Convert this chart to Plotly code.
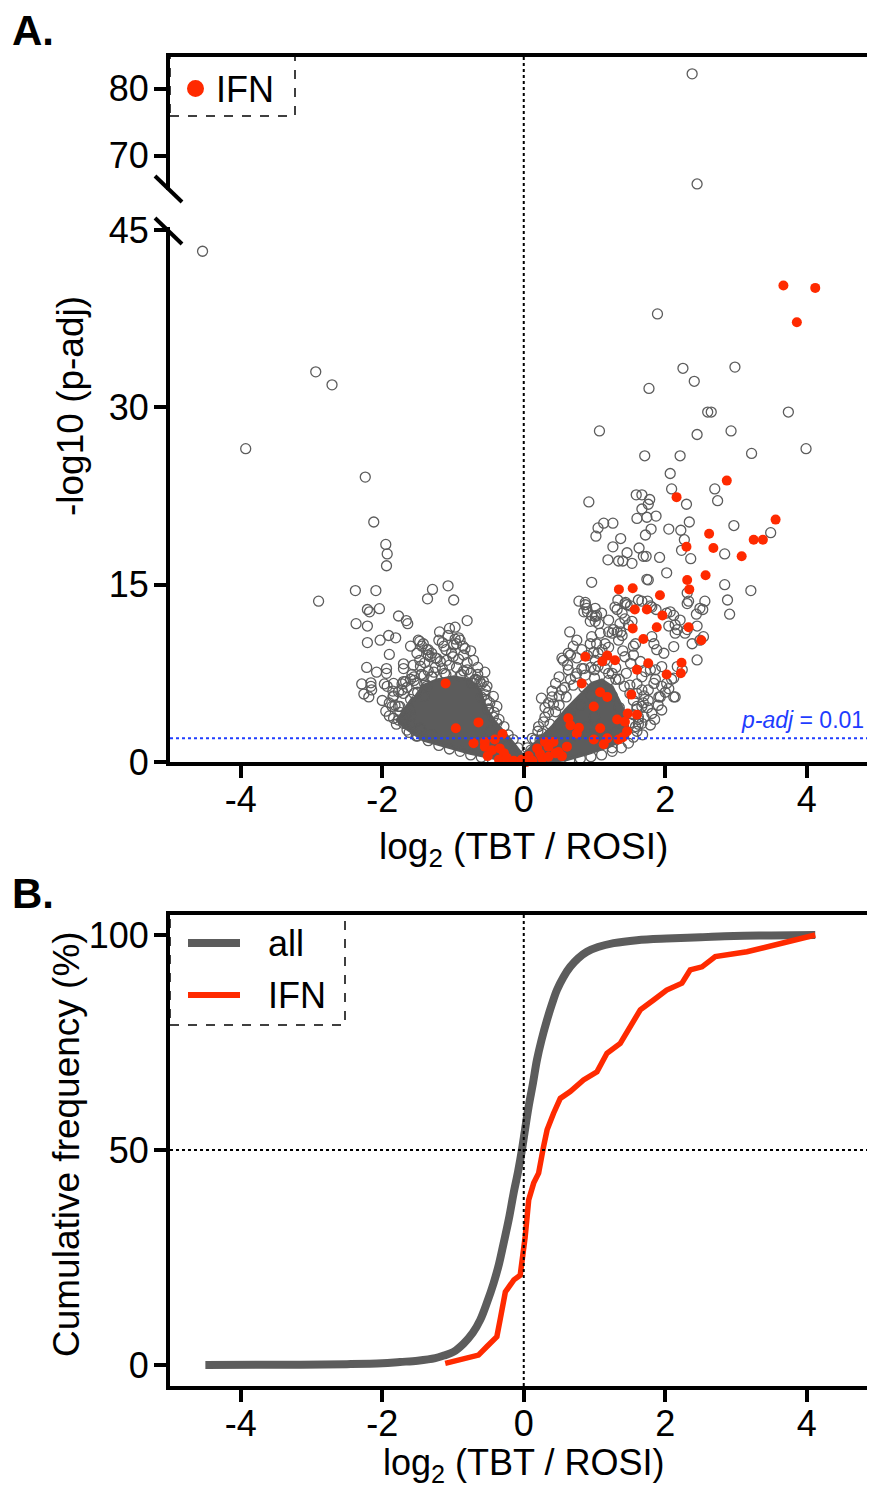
import plotly.graph_objects as go

# the page body has an 8px margin, so the figure is drawn 8px in and kept small enough not to scroll
OFF = 8
W, H = 875 - 2 * OFF, 1497 - 2 * OFF
GRAY = '#5c5c5c'
RED = '#ff2a00'
BLUE = '#1f3dff'
FONT = 'Liberation Sans, Arial, sans-serif'

# ---- panel A: volcano, all genes (open grey circles)
gray_x = [-4.54, -2.94, -2.71, -3.93, -2.24, -2.12, -1.95, -1.93, -1.94,
          -2.90, -2.38, -2.09, -2.21, -2.18, -2.04, -2.37, -2.21, -2.21,
          -1.29, -1.36, -1.07, -0.99, -1.77, -1.66, -1.64, -0.80, -1.91, -2.03,
          -1.81, -1.90, -2.22, -2.08, -1.94, -1.94, -2.29, -2.16, -2.26, -2.19,
          -2.16, -1.97, -1.93, -1.84, -1.72, -1.72, -1.70, -1.56, -1.47,
          -1.19, -1.05, -0.97, -1.20, -1.07, -0.92, -0.90, -1.47, -1.44, -1.35,
          -1.51, -1.35, -1.13, -0.99, -0.86, -1.02, -0.85, -1.09, -0.92, -1.18,
          -0.71, -0.80, -1.70, -1.46, -2.15, -1.84, -1.70, -1.70, -1.85, -1.77,
          -1.86, -1.82, -1.77, -1.84, -1.77, -1.70, -1.60, -0.57, -0.54, -0.52,
          -0.50, -0.43, -0.38, -0.68, -0.73, -1.58, -1.41, -1.27, -0.97, -1.10,
          -0.83, -1.23, -1.49, -1.42, -1.37, -1.32, -1.55, -1.67, -1.51, -1.37,
          -1.55, -1.41, -1.75, -1.61, -0.62, -0.52, -0.43, -0.38, -1.62, -1.52,
          -1.48, -1.30, -1.12, -0.88, -0.66, -1.66, -1.60, -0.47, -0.35, -0.25,
          -1.65, -1.55, -1.45, -1.35, -1.25, -1.15, -1.05, -0.95, -0.85, -0.75,
          -0.65, -0.60, -0.55, -0.48, -0.42, -0.35, -0.28, -0.22, -0.15, -0.08,
          -1.90, -1.95, -1.90, -1.80, -1.65, -1.50, -1.35, -1.20, -1.05, -0.90,
          -0.75, -0.60, -0.45, -1.60, -1.50, -1.40, -1.30, -1.10, -0.90, -0.70,
          -1.75, -1.70, -1.60, -1.45, -1.30, -0.60, -0.50, -1.25, -1.00, -0.80,
          -1.40, -1.60, -1.85, -2.00, -1.30, -0.75, -0.65, -0.95, -1.15, -1.60,
          -0.55,
          1.89, 2.25, 2.985, 2.41, 1.77, 2.60, 2.65, 3.74, 1.07, 2.45, 2.93,
          1.71, 2.21, 3.22, 3.99, 2.07, 2.09, 2.70, 2.74, 0.92, 1.59, 1.67,
          1.78, 1.76, 2.30, 1.67, 2.34, 2.97, 3.49, 1.13, 1.26, 1.05, 1.02,
          1.60, 1.74, 1.87, 1.80, 1.72, 2.05, 2.22, 2.27, 2.23, 1.37, 1.26,
          1.63, 1.46, 1.69, 1.73, 1.92, 2.36, 2.84, 1.19, 1.34, 1.40, 1.53,
          2.02, 1.76, 0.96, 2.84, 3.21, 2.88, 2.91, 2.56, 2.53, 2.44, 2.33,
          0.78, 0.87, 0.89, 0.90, 1.03, 1.33, 1.44, 1.51, 1.67, 1.75, 1.79,
          1.87, 2.02, 2.12, 1.74, 2.31, 2.49, 2.21, 2.17, 2.31, 2.05, 2.45,
          2.38, 2.49, 2.54, 2.45, 2.12, 1.98, 1.84, 1.88, 1.95, 1.79, 1.67,
          1.84, 2.02, 2.12, 1.93, 1.76, 1.69, 1.60, 2.12, 2.17, 2.24, 0.87,
          0.85, 0.96, 1.01, 1.43, 1.32, 1.62, 1.81, 1.43, 1.27, 1.20, 1.37,
          1.53, 1.58, 1.81, 0.94, 0.54, 0.66, 1.01, 1.01, 0.94, 1.06, 1.29,
          1.46, 1.39, 1.25, 1.32, 1.39, 1.34, 0.75, 0.63, 0.56, 0.96, 1.08,
          1.03, 1.15, 0.82, 0.99, 1.105, 1.01, 1.15, 1.36, 1.48, 2.07, 2.14,
          2.14, 2.31, 2.28, 1.43, 1.55, 1.51, 1.65, 1.72, 1.86, 1.86, 1.95,
          2.09, 2.14, 1.91, 1.95, 1.67, 1.76, 1.67, 1.81, 1.67, 1.79, 1.58,
          0.45, 0.54, 0.40, 0.35, 0.45, 0.30, 0.37, 0.63, 0.73, 0.82, 0.87,
          0.21, 0.26, 0.23, 1.20, 1.30, 1.50, 1.60, 1.55, 1.50, 1.00, 0.70,
          0.60, 0.50, 1.62, 1.68, 1.40, 1.25, 0.16, 0.10,
          0.05, 0.12, 0.20, 0.28, 0.35, 0.42, 0.50, 0.58, 0.66, 0.75, 0.85,
          0.95, 1.05, 1.15, 1.25, 1.35, 1.42, 1.50, 1.55, 1.60, 1.62, 1.62,
          1.60, 1.55, 1.48, 1.38, 1.25, 1.10, 0.95, 0.80, 0.65,
          0.50, 0.65, 0.80, 0.95, 1.10, 1.25, 1.35, 1.40, 1.30, 1.15, 0.90,
          0.70, 1.00, 0.85, 1.00, 1.20,
          0.40, 0.50, 0.62, 0.75, 0.90, 1.05, 1.20, 1.30, 1.45, 1.60, 1.70,
          1.75, 1.70, 1.85, 1.90, 2.00, 2.05, 1.55, 1.40, 0.30, 0.25, 0.70,
          1.20, 1.10, 0.65,
          2.38, 2.45]
gray_y = [43.2, 33.0, 31.9, 26.5, 24.1, 20.3, 18.4, 17.6, 16.6,
          13.6, 14.5, 14.5, 12.9, 12.7, 12.97, 11.7, 11.5, 10.1,
          14.6, 13.8, 14.9, 13.7, 12.35, 11.96, 11.7, 11.96, 10.7, 10.3,
          10.5, 9.1, 8.0, 7.6, 7.9, 7.5, 6.6, 6.7, 5.75, 5.5,
          6.4, 6.6, 6.4, 5.6, 6.6, 6.1, 8.3, 8.2, 8.6,
          11.0, 11.3, 11.4, 10.3, 10.7, 10.5, 10.3, 10.2, 9.8, 9.5,
          9.2, 9.05, 9.8, 9.9, 9.8, 9.2, 9.05, 8.6, 8.7, 8.5,
          8.6, 7.8, 7.9, 8.1, 6.1, 6.65, 6.8, 5.8, 5.5, 5.95,
          4.7, 4.8, 4.7, 3.7, 3.55, 3.27, 3.1, 6.8, 6.1, 5.2,
          4.4, 3.8, 3.27, 7.0, 6.65, 7.4, 7.3, 7.6, 10.4, 9.5,
          9.6, 8.77, 10.3, 10.0, 9.5, 8.9, 7.2, 6.8, 6.65, 6.4,
          5.8, 5.55, 4.7, 4.4, 6.8, 6.4, 5.55, 4.7, 2.5, 2.2,
          2.9, 7.2, 7.5, 7.4, 6.9, 4.1, 3.9, 2.6, 2.0, 1.3,
          6.3, 6.9, 7.4, 7.7, 8.0, 7.9, 8.2, 8.0, 7.7, 7.5,
          7.4, 6.6, 5.7, 5.0, 4.2, 3.6, 3.0, 2.3, 1.9, 1.2,
          5.0, 4.3, 3.9, 3.2, 2.7, 2.2, 1.8, 1.4, 1.1, 0.9,
          0.6, 0.4, 0.25, 5.3, 5.9, 6.6, 7.2, 7.4, 7.3, 6.9,
          4.2, 3.6, 3.2, 2.7, 2.3, 5.5, 4.5, 8.8, 8.9, 8.4,
          8.4, 7.0, 6.0, 5.2, 9.2, 9.4, 8.0, 10.0, 10.1, 9.8,
          7.6,
          37.9, 33.3, 33.4, 32.2, 31.6, 29.6, 29.6, 29.6, 28.0, 27.7, 28.0,
          25.9, 25.9, 26.1, 26.5, 24.4, 23.1, 23.1, 22.1, 22.0, 22.6, 22.6,
          22.2, 21.8, 21.8, 21.4, 20.3, 20.0, 19.4, 20.2, 20.2, 19.8, 19.1,
          20.6, 20.7, 20.8, 19.7, 19.2, 19.7, 19.6, 18.8, 17.9, 18.9, 18.2,
          18.1, 17.7, 17.4, 17.4, 17.3, 17.2, 17.6, 17.1, 17.0, 17.0, 16.8,
          16.0, 15.4, 15.2, 15.0, 14.5, 13.7, 12.5, 13.6, 12.9, 12.5, 13.6,
          13.6, 13.5, 13.0, 12.7, 12.4, 13.7, 13.5, 13.2, 13.6, 13.6, 13.2,
          12.9, 12.6, 12.4, 15.45, 14.3, 13.0, 12.0, 11.2, 11.2, 11.5, 11.5,
          10.0, 10.3, 10.6, 8.63, 9.76, 9.2, 10.0, 9.5, 8.07, 7.8, 7.2,
          6.65, 6.65, 5.5, 5.5, 6.1, 5.0, 4.7, 7.1, 8.07, 7.8, 13.3,
          12.7, 12.4, 11.9, 13.4, 12.9, 13.7, 13.1, 12.1, 11.2, 11.0, 11.0,
          11.9, 10.0, 10.6, 10.0, 8.78, 9.05, 13.0, 12.3, 11.9, 11.7, 13.1,
          13.3, 12.6, 10.9, 11.0, 10.7, 10.3, 10.3, 9.2, 8.6, 10.6, 10.9,
          10.0, 10.0, 9.5, 9.3, 9.5, 8.6, 8.6, 11.7, 11.6, 12.7, 11.6,
          10.9, 13.4, 10.9, 8.9, 9.05, 8.35, 8.5, 7.65, 7.8, 7.0, 6.4,
          7.0, 5.5, 5.5, 4.4, 6.1, 5.2, 4.7, 4.1, 3.27, 3.13, 3.0,
          6.65, 6.1, 5.5, 5.0, 4.25, 3.8, 3.2, 7.8, 7.2, 7.9, 7.35,
          3.0, 2.4, 1.86, 7.5, 7.0, 6.5, 5.8, 4.0, 3.3, 7.8, 6.5,
          5.5, 4.8, 3.6, 2.3, 2.2, 1.2, 1.9, 1.0,
          1.2, 2.0, 2.6, 3.4, 4.2, 4.9, 5.6, 6.3, 7.0, 7.5, 7.9,
          8.0, 8.1, 7.9, 7.5, 7.0, 6.4, 5.8, 5.2, 4.5, 3.8, 3.2,
          2.6, 2.1, 1.6, 1.2, 0.9, 0.6, 0.45, 0.3, 0.15,
          3.2, 4.1, 4.8, 5.6, 6.2, 5.6, 4.6, 3.5, 2.5, 2.2, 3.0,
          2.2, 3.8, 6.3, 7.1, 6.9,
          6.0, 7.2, 8.2, 8.8, 9.0, 9.2, 9.7, 8.0, 7.5, 6.6, 5.6,
          4.6, 3.8, 3.6, 4.8, 5.9, 6.2, 9.8, 9.4, 4.6, 5.4, 9.8,
          12.0, 12.6, 11.0,
          82.2, 65.8]

# saturated cores of the cloud, where the open circles fuse into solid grey
core_left_x = [-1.46, -1.23, -0.99, -0.76, -0.615, -0.544, -0.427, -0.285, -0.144,
               0.0, 0.045, -0.19, -0.76, -1.42, -1.70, -1.79, -1.65, -1.56]
core_left_y = [6.37, 6.94, 7.2, 6.94, 6.09, 4.68, 3.55, 2.56, 1.58,
               0.45, 0.0, 0.03, 0.73, 1.86, 2.99, 3.55, 4.68, 5.5]
core_right_x = [-0.03, 0.16, 0.40, 0.59, 0.77, 0.96, 1.105, 1.25, 1.34, 1.43,
                1.48, 1.39, 1.20, 0.92, 0.59, 0.26, 0.05]
core_right_y = [0.45, 1.58, 2.99, 4.4, 5.5, 6.65, 6.94, 6.37, 5.25, 4.12,
                2.7, 1.86, 1.3, 0.73, 0.17, 0.0, 0.0]

# IFN genes (filled red)
ifn_x = [3.67, 4.12, 3.86, 2.87, 2.16, 3.56, 2.62, 3.25, 3.38, 2.30, 2.68, 3.08,
         2.57, 2.31, 2.34, 1.345, 1.54, 1.925, 1.57, 1.74, 1.96, 1.54, 1.88, 2.33,
         2.51, 1.69, 0.87, 1.18, 1.11, 1.29, 1.76, 2.23, 2.22, 1.60, 2.02, 0.82,
         1.08, 1.18, 1.52, 0.99, 0.63, 0.66, 0.78, 0.75, 1.47, 1.60, 1.32, 1.43,
         1.08, 1.46, 0.99, 1.18, 1.13, 1.34, 1.40, 0.30, 0.42, 0.35, 0.61, 0.49,
         0.54, 0.19, 0.23, 0.26, 0.07, -0.03, 0.12, 0.35, 0.45,
         -1.105, -0.64, -0.96, -0.30, -0.71, -0.55, -0.55, -0.41, -0.45, -0.34,
         -0.28, -0.51, -0.35, -0.24, -0.14, -0.03, 0.04]
ifn_y = [40.3, 40.1, 37.2, 23.8, 22.4, 20.5, 19.3, 18.8, 18.8, 18.2, 18.1, 17.4,
         15.8, 15.4, 14.6, 14.6, 14.7, 14.1, 12.9, 12.9, 12.4, 11.3, 11.4, 11.4,
         10.3, 10.4, 8.9, 9.0, 8.5, 8.6, 8.35, 8.4, 7.5, 7.8, 7.4, 6.65,
         5.9, 5.5, 5.7, 4.7, 3.7, 3.1, 2.9, 2.4, 4.1, 4.0, 3.6, 3.4,
         2.85, 2.6, 1.9, 2.0, 1.5, 1.9, 2.1, 1.7, 1.7, 1.3, 1.3, 0.85,
         0.5, 1.15, 0.7, 0.3, 0.5, 0.2, 0.1, 0.45, 0.75,
         6.65, 3.35, 2.85, 2.37, 1.58, 1.7, 1.3, 1.9, 1.0, 1.15,
         0.75, 0.5, 0.2, 0.35, 0.1, 0.1, 0.0]

padj_cut = 0.01
padj_line = 2.0  # -log10(0.01)

# ---- panel B: cumulative frequency
cdf_all_x = [-4.5, -3.5, -2.5, -2.0, -1.75, -1.5, -1.25, -1.13, -1.0, -0.85, -0.72,
             -0.615, -0.52, -0.427, -0.35, -0.285, -0.21, -0.144, -0.08, -0.026,
             0.02, 0.068, 0.13, 0.186, 0.25, 0.328, 0.40, 0.469, 0.56, 0.657,
             0.77, 0.893, 1.05, 1.27, 1.6, 2.02, 2.5, 2.97, 3.5, 4.12]
cdf_all_y = [0.0, 0.05, 0.2, 0.4, 0.7, 1.0, 1.6, 2.2, 3.0, 5.0, 7.5,
             10.5, 14.5, 19.0, 23.5, 28.3, 34.0, 39.9, 45.0, 50.0,
             55.0, 60.0, 65.5, 70.9, 75.5, 80.2, 84.0, 87.2, 90.2, 92.6,
             94.6, 96.1, 97.2, 98.1, 98.8, 99.2, 99.5, 99.8, 99.9, 100.0]
cdf_ifn_x = [-1.11, -0.64, -0.52, -0.38, -0.33, -0.26, -0.14, -0.05, 0.02, 0.07,
             0.14, 0.21, 0.28, 0.33, 0.42, 0.516, 0.657, 0.845, 1.035, 1.176,
             1.364, 1.505, 1.647, 1.835, 2.02, 2.236, 2.353, 2.52, 2.707, 3.155,
             3.67, 4.12]
cdf_ifn_y = [0.4, 2.3, 4.3, 6.6, 10.9, 17.0, 19.8, 20.9, 29.8, 38.4,
             42.3, 44.6, 50.8, 54.7, 58.5, 62.0, 63.6, 66.3, 68.2, 72.5,
             74.8, 78.7, 82.6, 84.9, 87.2, 88.8, 91.9, 92.6, 95.0, 96.1,
             98.2, 100.0]

xticks = [-4, -2, 0, 2, 4]


def px(p):
    return (p - OFF) / W


def py(p):
    return 1 - (p - OFF) / H


BREAK = 50
low_x = [x for x, y in zip(gray_x, gray_y) if y < BREAK]
low_y = [y for y in gray_y if y < BREAK]
up_x = [x for x, y in zip(gray_x, gray_y) if y >= BREAK]
up_y = [y for y in gray_y if y >= BREAK]

fig = go.Figure()
for cx, cy in [(core_left_x, core_left_y), (core_right_x, core_right_y)]:
    fig.add_trace(go.Scatter(x=cx, y=cy, mode='lines', fill='toself', fillcolor=GRAY,
                             line=dict(color=GRAY, width=3), hoverinfo='skip',
                             showlegend=False, xaxis='x', yaxis='y'))
circle = dict(symbol='circle-open', size=10, color=GRAY, line=dict(width=1.3))
fig.add_trace(go.Scatter(x=low_x, y=low_y, mode='markers', marker=circle, cliponaxis=False,
                         showlegend=False, xaxis='x', yaxis='y'))
fig.add_trace(go.Scatter(x=up_x, y=up_y, mode='markers', marker=circle, cliponaxis=False,
                         showlegend=False, xaxis='x', yaxis='y2'))
fig.add_trace(go.Scatter(x=ifn_x, y=ifn_y, mode='markers', cliponaxis=False,
                         marker=dict(symbol='circle', size=10, color=RED),
                         showlegend=False, xaxis='x', yaxis='y'))

fig.add_trace(go.Scatter(x=cdf_all_x, y=cdf_all_y, mode='lines', line=dict(color=GRAY, width=8, shape='spline'),
                         showlegend=False, xaxis='x2', yaxis='y3'))
fig.add_trace(go.Scatter(x=cdf_ifn_x, y=cdf_ifn_y, mode='lines', line=dict(color=RED, width=5.5),
                         showlegend=False, xaxis='x2', yaxis='y3'))

tickfont = dict(family=FONT, size=36, color='black')
ax = dict(showline=True, linewidth=4, linecolor='black', ticks='outside', ticklen=12,
          tickwidth=4, tickcolor='black', showgrid=False, zeroline=False,
          tickfont=tickfont, automargin=False)
axx = dict(ax, ticklabelstandoff=-9)
axy = dict(ax, ticklabelstandoff=-2)

# x scale: 0 sits at 523.75 px, 70.75 px per unit, plot starts at 170 px
x_lo = -5
x_hi = x_lo + (875 - OFF - 170) / 70.75
dom_x = [px(170), 1.0]
xlab = [str(v) for v in xticks]
fig.update_layout(
    width=W, height=H, margin=dict(l=0, r=0, t=0, b=0),
    paper_bgcolor='white', plot_bgcolor='rgba(0,0,0,0)', template='none',
    font=dict(family=FONT, color='black'),
    xaxis=dict(axx, domain=dom_x, range=[x_lo, x_hi], tickvals=xticks, ticktext=xlab, anchor='y'),
    yaxis=dict(axy, domain=[py(762), py(227)], range=[0, 45.25], tickvals=[0, 15, 30, 45], anchor='x'),
    yaxis2=dict(axy, domain=[py(190), py(55)], range=[64.9, 85], tickvals=[70, 80], anchor='x'),
    xaxis2=dict(axx, domain=dom_x, range=[x_lo, x_hi], tickvals=xticks, ticktext=xlab, anchor='y3'),
    yaxis3=dict(axy, domain=[py(1386), py(913)], range=[-4.88, 105.12], tickvals=[0, 50, 100], anchor='x2'),
)

shapes = []
# frame tops
for top in (55, 913):
    shapes.append(dict(type='line', xref='paper', yref='paper', x0=px(166), x1=1, y0=py(top), y1=py(top),
                       line=dict(color='black', width=4)))
# axis break marks
for y0 in (176, 218):
    shapes.append(dict(type='line', xref='paper', yref='paper', x0=px(155), x1=px(182),
                       y0=py(y0), y1=py(y0 + 26), line=dict(color='black', width=4)))
# reference lines
shapes.append(dict(type='line', xref='x', yref='paper', x0=0, x1=0, y0=py(762), y1=py(57),
                   line=dict(color='black', width=2, dash='dot')))
shapes.append(dict(type='line', xref='paper', yref='y', x0=px(170), x1=1, y0=padj_line, y1=padj_line,
                   line=dict(color=BLUE, width=2, dash='dot')))
shapes.append(dict(type='line', xref='x2', yref='paper', x0=0, x1=0, y0=py(1386), y1=py(915),
                   line=dict(color='black', width=2, dash='dot')))
shapes.append(dict(type='line', xref='paper', yref='y3', x0=px(170), x1=1, y0=50, y1=50,
                   line=dict(color='black', width=2, dash='dot')))
# legend boxes
shapes.append(dict(type='rect', xref='paper', yref='paper', x0=px(170), x1=px(295), y0=py(116), y1=py(55),
                   line=dict(color='black', width=1.5, dash='dash')))
shapes.append(dict(type='circle', xref='paper', yref='paper', x0=px(187), x1=px(204), y0=py(97), y1=py(80),
                   fillcolor=RED, line=dict(width=0)))
shapes.append(dict(type='rect', xref='paper', yref='paper', x0=px(170), x1=px(345), y0=py(1025), y1=py(913),
                   line=dict(color='black', width=1.5, dash='dash')))
shapes.append(dict(type='line', xref='paper', yref='paper', x0=px(188), x1=px(240), y0=py(943), y1=py(943),
                   line=dict(color=GRAY, width=8)))
shapes.append(dict(type='line', xref='paper', yref='paper', x0=px(188), x1=px(240), y0=py(995), y1=py(995),
                   line=dict(color=RED, width=6)))
fig.update_layout(shapes=shapes)


def note(text, x, y, size=37, xanchor='center', angle=0, color='black'):
    fig.add_annotation(text=text, x=px(x), y=py(y), xref='paper', yref='paper', showarrow=False,
                       xanchor=xanchor, yanchor='middle', textangle=angle,
                       font=dict(family=FONT, size=size, color=color))


note('<b>A.</b>', 10, 30, size=42, xanchor='left')
note('<b>B.</b>', 10, 893, size=42, xanchor='left')
note('IFN', 214, 89, size=36, xanchor='left')
note('all', 266, 943, size=36, xanchor='left')
note('IFN', 266, 995, size=36, xanchor='left')
note('-log10 (p-adj)', 70, 406, angle=-90)
note('Cumulative frequency (%)', 66, 1144, angle=-90)
note('log<sub>2</sub> (TBT / ROSI)', 523, 849)
note('log<sub>2</sub> (TBT / ROSI)', 523, 1465, size=36)
note('<i>p-adj</i> = 0.01', 866, 720, size=23, xanchor='right', color=BLUE)

fig.write_html("out.html")
